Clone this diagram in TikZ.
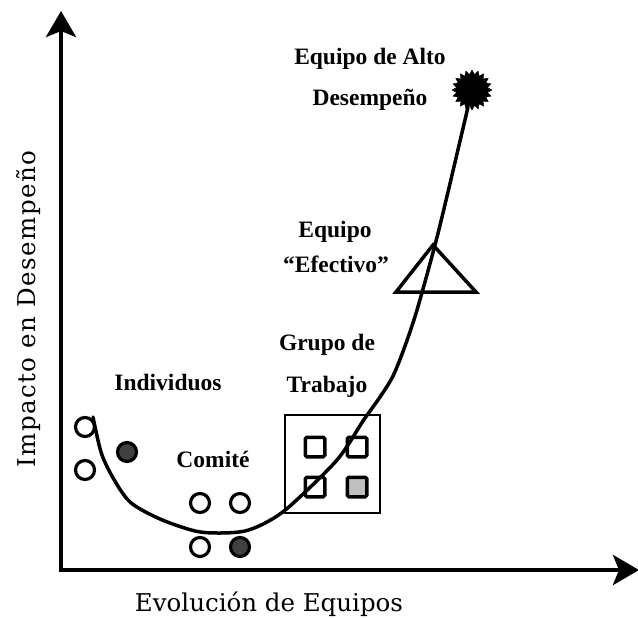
\documentclass[tikz,border=0pt]{standalone}
\usepackage{fontspec}
\setmainfont{Liberation Serif}
\newfontfamily\xlblfont{DejaVu Serif}
\newfontfamily\ylblfont[LetterSpace=6]{DejaVu Serif}
\usetikzlibrary{arrows.meta, shapes.geometric, positioning}
\tikzset{
  axisline/.style  = {-{Stealth[length=26pt, width=30pt, inset=6pt]}, line width=4.5pt, black},
  evolcurve/.style = {line width=3.5pt, black, line cap=round},
  member/.style    = {circle, draw, line width=3.2pt, minimum size=19pt, inner sep=0pt},
  spotted/.style   = {member, fill=black!75},
  task/.style      = {rectangle, rounded corners=1.5pt, draw, line width=3.5pt,
                      minimum size=19.5pt, inner sep=0pt},
  lbl/.style       = {font=\bfseries\fontsize{23.5}{26}\selectfont, anchor=base},
  axlbl/.style     = {font=\fontsize{24.5}{28}\selectfont, anchor=base},
}

\begin{document}
\begin{tikzpicture}[x=1pt,y=-1pt]
  \useasboundingbox (0,0) rectangle (638,619);
  % axes
  \coordinate (O) at (61,570);
  \coordinate (ytop) at (61,11);
  \coordinate (xend) at (639,570);
  \draw[axisline] ([yshift=-2pt]O) -- (ytop);
  \draw[axisline] ([xshift=-2pt]O) -- (xend);
  \node[axlbl, rotate=90] (ylbl) at (35,309) {\ylblfont Impacto en Desempeño};
  \node[axlbl] (xlbl) at (269,611) {\xlblfont Evolución de Equipos};

  % individuos
  \node[member]  (i1) at (85,427) {};
  \node[member]  (i2) at (85,470) {};
  \node[spotted] (i3) at (127,452) {};
  \node[lbl] (lind) at (168,390) {Individuos};

  % comite
  \node[member]  (c1) at (200,503) {};
  \node[member]  (c2) at (240,503) {};
  \node[member]  (c3) at (200,547) {};
  \node[spotted] (c4) at (240,547) {};
  \node[lbl] (lcom) at (213,467) {Comité};

  % grupo de trabajo
  \node[draw, line width=1.5pt, minimum width=95pt, minimum height=98pt] (box) at (332.5,464) {};
  \node[task] (t1) at (315,447) {};
  \node[task] (t2) at (357,447) {};
  \node[task] (t3) at (315,487) {};
  \node[task, fill=black!25] (t4) at (357,487) {};
  \node[lbl] (lgru1) at (327,350) {Grupo de};
  \node[lbl] (lgru2) at (327,392) {Trabajo};

  % equipo efectivo
  \coordinate (apex) at (433,245);
  \coordinate (baseR) at (476,292);
  \coordinate (baseL) at (396,292);
  \draw[line width=3.5pt, line join=miter] (apex) -- (baseR) -- (baseL) -- cycle;
  \node[lbl] (lefe1) at (335,237) {Equipo};
  \node[lbl] (lefe2) at (336,272) {``Efectivo''};

  % alto desempeno
  \node[star, star points=20, star point ratio=1.28, fill=black, draw,
        minimum size=40pt, inner sep=0pt] (star) at (472,90) {};
  \node[lbl] (lalt1) at (370,64) {Equipo de Alto};
  \node[lbl] (lalt2) at (370,105) {Desempeño};

  % curva de evolucion
  \draw[evolcurve] plot[smooth, tension=0.5] coordinates {
    (93,417) (101,452) (112,476) (130,502) (160,519) (195,531) (220,533)
    (245,531) (267,522) (290,506) (337,460) (363,421) (380,397) (393,376)
    (405,346) (417,310) (435,245) (448,192) (468,107)};
\end{tikzpicture}
\end{document}
